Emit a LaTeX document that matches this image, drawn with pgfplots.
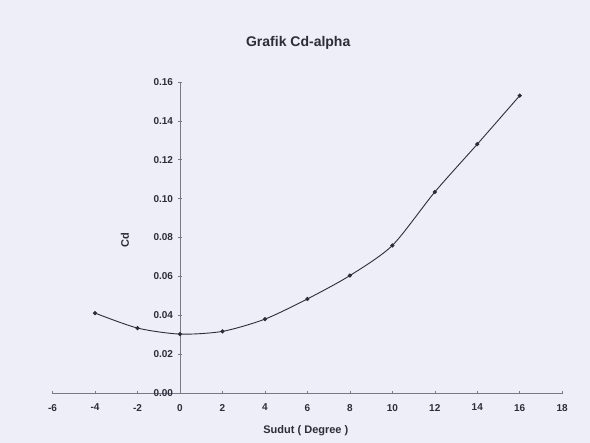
\documentclass[border=0pt]{standalone}
\usepackage{pgfplots}
\pgfplotsset{compat=1.18}
\usepackage{fontspec}
\setmainfont{Liberation Sans}
\definecolor{bg}{RGB}{237,238,247}
\definecolor{ink}{RGB}{45,45,58}
\definecolor{axcol}{RGB}{120,120,135}
\begin{document}
\begin{tikzpicture}[x=1pt,y=1pt]
\fill[bg] (0,0) rectangle (590,443);
\begin{axis}[
  at={(52.6pt,50pt)}, anchor=south west,
  scale only axis, width=509.6pt, height=311pt,
  xmin=-6, xmax=18, ymin=0, ymax=0.16,
  axis lines=middle,
  axis line style={axcol, -, line width=0.6pt},
  hide obscured x ticks=false, hide obscured y ticks=false,
  xtick={-6,-4,...,18},
  ytick={0,0.02,...,0.16},
  tick align=center,
  major tick length=3pt,
  tick style={axcol, line width=0.5pt},
  /pgf/number format/assume math mode=true,
  xticklabel style={font=\bfseries\fontsize{10}{12}\selectfont, text=ink, yshift=-6pt},
  yticklabel style={font=\bfseries\fontsize{10}{12}\selectfont, text=ink,
    /pgf/number format/fixed, /pgf/number format/precision=2,
    /pgf/number format/fixed zerofill, xshift=-2pt},
  scaled y ticks=false,
  title={Grafik Cd-alpha},
  title style={at={(axis description cs:0.482,1.105)}, anchor=center,
    font=\bfseries\fontsize{14}{16}\selectfont, text=ink},
  xlabel={Sudut ( Degree )},
  xlabel style={at={(axis description cs:0.497,-0.122)}, anchor=center,
    font=\bfseries\fontsize{11}{13}\selectfont, text=ink},
  ylabel={Cd},
  ylabel style={at={(axis description cs:0.142,0.493)}, anchor=center,
    rotate=90, font=\bfseries\fontsize{11}{13}\selectfont, text=ink},
  clip=false,
]
\addplot[ink, line width=0.9pt, smooth, tension=0.45, mark=*,
  mark size=1.6pt, mark options={fill=ink, draw=ink}]
  coordinates {
    (-4,0.0411) (-2,0.0334) (0,0.0303) (2,0.0317) (4,0.0380)
    (6,0.0484) (8,0.0604) (10,0.0759) (12,0.1034) (14,0.1280) (16,0.1530)
  };
\end{axis}
\end{tikzpicture}
\end{document}
